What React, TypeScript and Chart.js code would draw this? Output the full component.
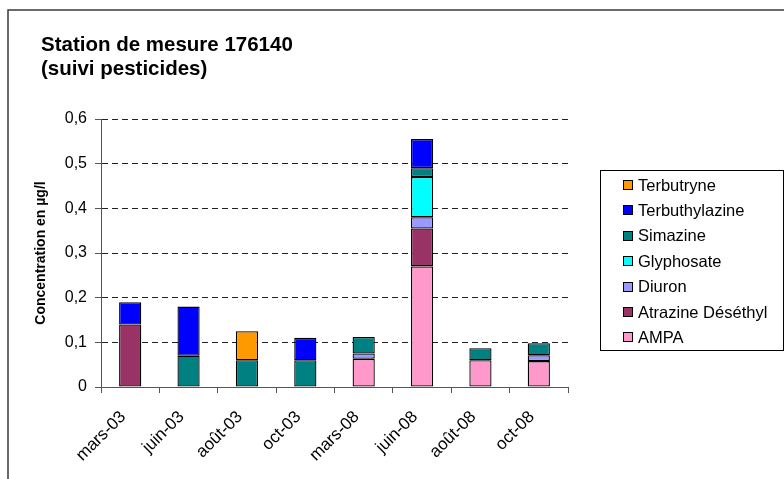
import React, { useEffect, useRef } from 'react';
import { Chart, registerables } from 'chart.js';

Chart.register(...registerables);

const FONT = '"Liberation Sans", Arial, Helvetica, sans-serif';

const titleLines = ['Station de mesure 176140', '(suivi pesticides)'];
const yAxisTitle = 'Concentration en µg/l';

const categories = ['mars-03', 'juin-03', 'août-03', 'oct-03', 'mars-08', 'juin-08', 'août-08', 'oct-08'];

const ampa = [null, null, null, null, 0.063, 0.27, 0.06, 0.058];
const atrazineDesethyl = [0.14, null, null, null, null, 0.085, null, null];
const diuron = [null, null, null, null, 0.012, 0.025, null, 0.013];
const glyphosate = [null, null, null, null, null, 0.09, null, null];
const simazine = [null, 0.07, 0.06, 0.06, 0.037, 0.02, 0.027, 0.027];
const terbuthylazine = [0.05, 0.11, null, 0.05, null, 0.065, null, null];
const terbutryne = [null, null, 0.065, null, null, null, null, null];

const seriesNames = ['AMPA', 'Atrazine Déséthyl', 'Diuron', 'Glyphosate', 'Simazine', 'Terbuthylazine', 'Terbutryne'];
const seriesValues = [ampa, atrazineDesethyl, diuron, glyphosate, simazine, terbuthylazine, terbutryne];
const seriesColors = ['#FF99CC', '#993366', '#9999FF', '#00FFFF', '#008080', '#0000FF', '#FF9900'];

const yTicks = [0, 0.1, 0.2, 0.3, 0.4, 0.5, 0.6];

const decorPlugin = {
  id: 'decor',
  beforeDraw(chart: any) {
    const ctx = chart.ctx as CanvasRenderingContext2D;
    ctx.save();
    ctx.fillStyle = '#ffffff';
    ctx.fillRect(0, 0, chart.width, chart.height);
    ctx.strokeStyle = '#3a3a3a';
    ctx.lineWidth = 1.5;
    ctx.strokeRect(8, 10, 1000, 1000);
    ctx.fillStyle = '#000';
    ctx.font = 'bold 20.5px ' + FONT;
    ctx.textAlign = 'left';
    ctx.textBaseline = 'alphabetic';
    ctx.fillText(titleLines[0], 41, 51);
    ctx.fillText(titleLines[1], 41, 75);
    ctx.restore();
  },
  afterDraw(chart: any) {
    const ctx = chart.ctx as CanvasRenderingContext2D;
    const ds = chart.data.datasets;
    ctx.save();
    const bx = 600.5, by = 170.5, bw = 183, bh = 180;
    ctx.strokeStyle = '#000';
    ctx.lineWidth = 1;
    ctx.strokeRect(bx, by, bw, bh);
    ctx.font = '16.5px ' + FONT;
    ctx.textAlign = 'left';
    ctx.textBaseline = 'middle';
    const order = ds.map((_: any, i: number) => i).reverse();
    order.forEach((di: number, row: number) => {
      const cy = 185 + row * 25.4;
      ctx.fillStyle = ds[di].backgroundColor;
      ctx.fillRect(623, Math.round(cy - 5), 10, 10);
      ctx.strokeStyle = '#000';
      ctx.strokeRect(623.5, Math.round(cy - 5) + 0.5, 9, 9);
      ctx.fillStyle = '#000';
      ctx.fillText(ds[di].label, 638, cy + 1);
    });
    ctx.restore();
  },
};

export default function App() {
  const ref = useRef<HTMLCanvasElement | null>(null);

  useEffect(() => {
    if (!ref.current) return;
    const chart = new Chart(ref.current, {
      type: 'bar',
      data: {
        labels: categories,
        datasets: seriesNames.map((name, i) => ({
          label: name,
          data: seriesValues[i],
          backgroundColor: seriesColors[i],
          borderColor: '#000',
          borderWidth: 1.3,
          borderSkipped: false,
          barPercentage: 0.38,
          categoryPercentage: 1,
        })),
      },
      options: {
        animation: false,
        responsive: false,
        devicePixelRatio: 1,
        layout: { padding: { left: 0, top: 119, right: 216, bottom: 0 } },
        plugins: {
          legend: { display: false },
          title: { display: false },
          tooltip: { enabled: false },
        },
        scales: {
          x: {
            stacked: true,
            offset: true,
            afterFit: (scale: any) => { scale.height = 92; },
            grid: {
              display: true,
              offset: true,
              drawOnChartArea: false,
              drawTicks: true,
              tickLength: 6,
              tickColor: '#555',
              tickWidth: 1,
            },
            border: { display: true, color: '#555', width: 1 },
            ticks: {
              color: '#000',
              font: { family: FONT, size: 17 },
              maxRotation: 45,
              minRotation: 45,
              autoSkip: false,
              padding: 14,
              labelOffset: -7,
            },
          },
          y: {
            stacked: true,
            min: 0,
            max: 0.6,
            afterFit: (scale: any) => { scale.width = 101; },
            afterBuildTicks: (scale: any) => { scale.ticks = yTicks.map((v) => ({ value: v })); },
            grid: {
              color: (c: any) => (c.tick && c.tick.value === 0 ? 'rgba(0,0,0,0)' : '#222'),
              lineWidth: 1,
              drawTicks: true,
              tickLength: 6,
              tickColor: '#555',
              tickBorderDash: [],
            },
            border: { display: true, color: '#555', width: 1, dash: [6, 4] },
            ticks: {
              color: '#000',
              font: { family: FONT, size: 16 },
              padding: 8,
              callback: (v: any) => String(Math.round(Number(v) * 10) / 10).replace('.', ','),
            },
            title: {
              display: true,
              text: yAxisTitle,
              color: '#000',
              font: { family: FONT, size: 14, weight: 'bold' },
              padding: { top: 33, bottom: 0 },
            },
          },
        },
      },
      plugins: [decorPlugin],
    });
    return () => chart.destroy();
  }, []);

  return (
    <div style={{ position: 'absolute', left: 0, top: 0, width: 784, height: 479, background: '#fff' }}>
      <canvas ref={ref} width={784} height={479} style={{ display: 'block', width: 784, height: 479 }} />
    </div>
  );
}
